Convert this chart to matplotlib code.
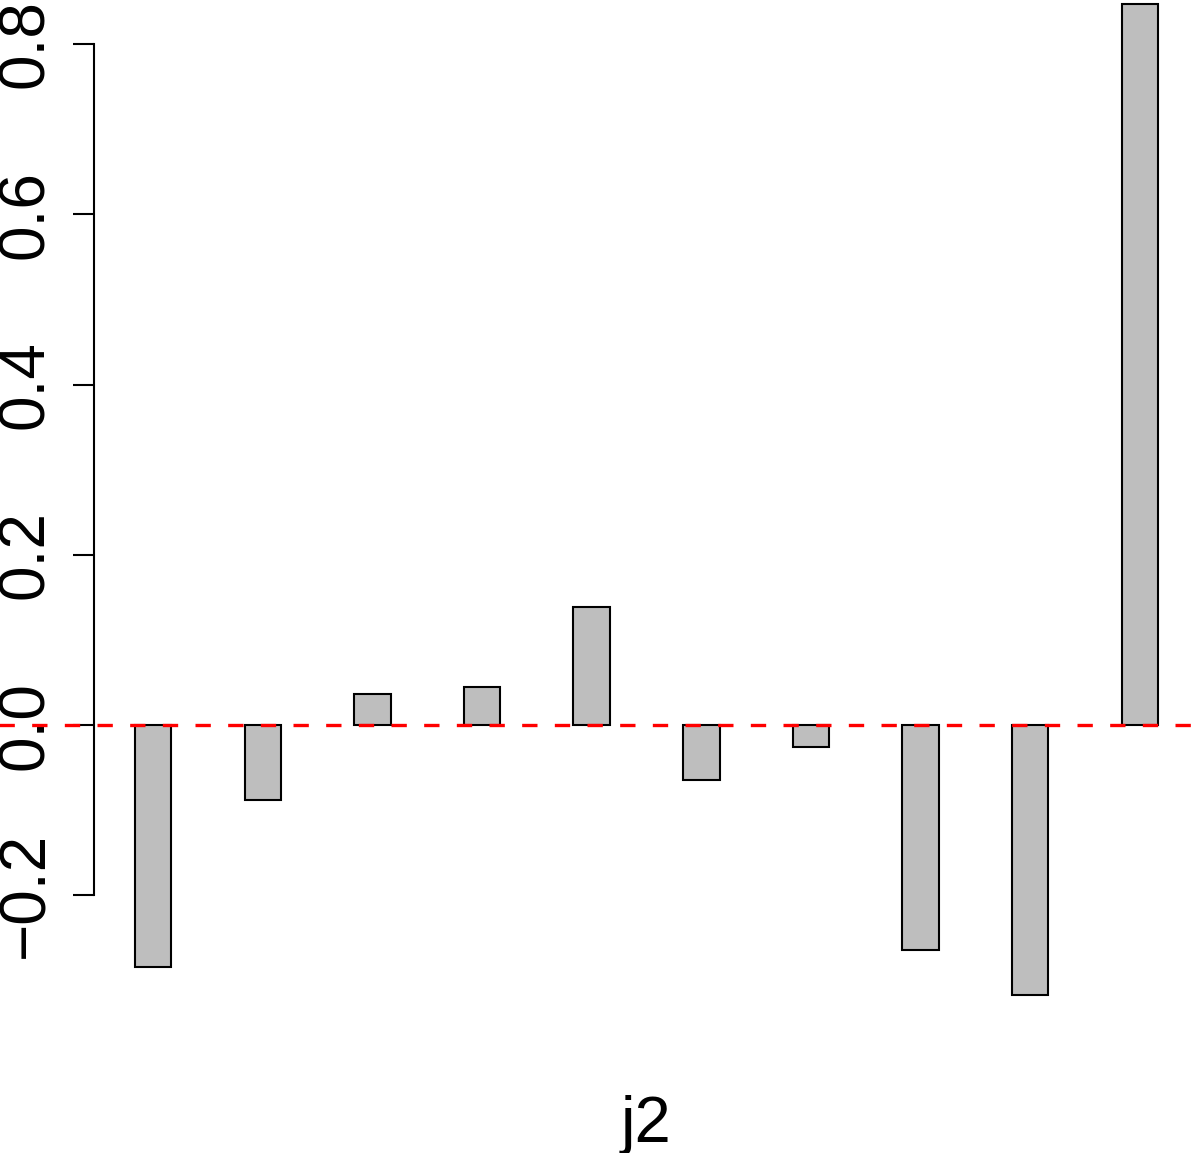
import matplotlib
matplotlib.use("Agg")
import matplotlib.pyplot as plt
import numpy as np

plt.rcParams['font.family'] = ['Liberation Sans', 'DejaVu Sans']

# bar heights
values = [-0.284, -0.088, 0.036, 0.045, 0.139, -0.065, -0.026, -0.264, -0.317, 0.847]
y_ticks = [-0.2, 0.0, 0.2, 0.4, 0.6, 0.8]
y_labels = ["-0.2", "0.0", "0.2", "0.4", "0.6", "0.8"]
x_label = "j2"

fig = plt.figure(figsize=(11.96, 11.53), dpi=100)
ax = fig.add_axes([94 / 1196, 0.1024, 1105 / 1196, 0.9288])

# R barplot style: width 1, space 2
lefts = 2 + 3 * np.arange(len(values))
ax.bar(lefts, values, width=1, align='edge', color='#BEBEBE',
       edgecolor='black', linewidth=1.5)
ax.set_xlim(0.88, 31.12)
ax.set_ylim(-0.364, 0.894)

line = ax.axhline(0, xmin=-0.1, xmax=1.1, color='red', linewidth=2.4,
                  clip_on=False)
line.set_dashes((4.6, 5.2))

for s in ['top', 'right', 'bottom']:
    ax.spines[s].set_visible(False)
ax.spines['left'].set_bounds(-0.2, 0.8)
ax.spines['left'].set_linewidth(1.5)
ax.set_xticks([])
ax.set_yticks(y_ticks)
ax.set_yticklabels([l.replace('-', '\u2212') for l in y_labels],
                   rotation=90, va='center', fontsize=46)
ax.tick_params(axis='y', length=15, width=1.5, pad=12)

fig.text(646 / 1196, 1 - 1142 / 1153, x_label, ha='center', va='baseline',
         fontsize=47)

fig.savefig("out.png", dpi=100)
